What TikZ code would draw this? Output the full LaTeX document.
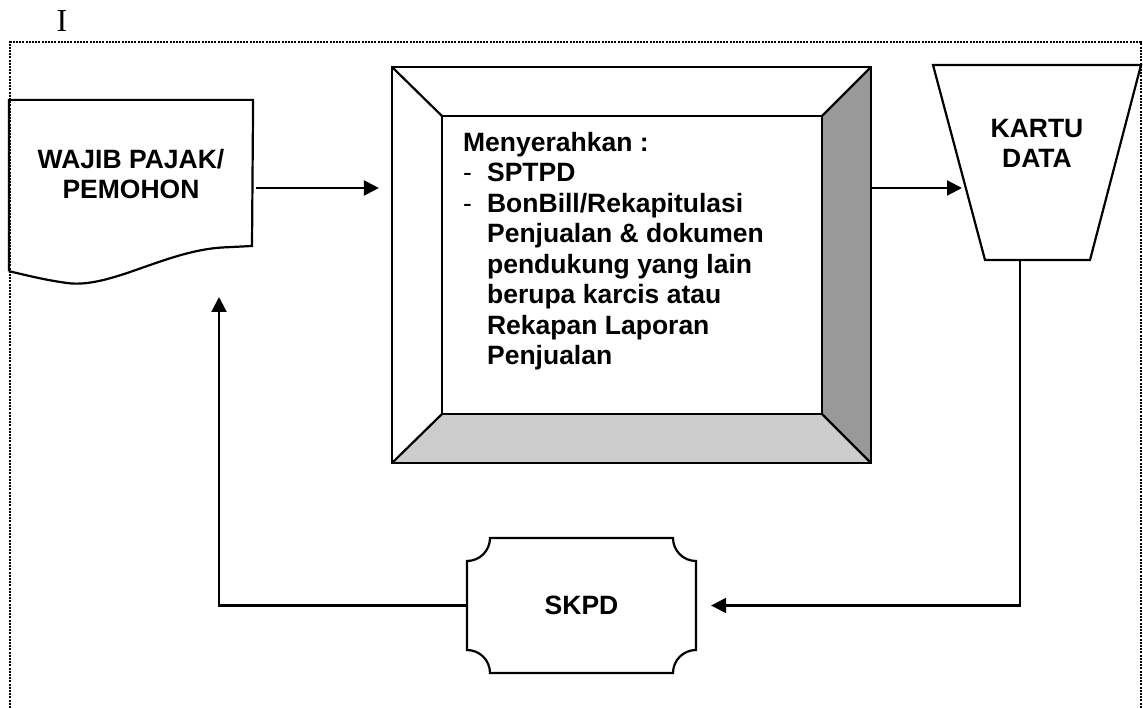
\documentclass[tikz,border=0pt]{standalone}
\usepackage{fontspec}
\setmainfont{Liberation Serif}
\newfontfamily\arial{Liberation Sans}
\usetikzlibrary{arrows.meta}

\begin{document}
\begin{tikzpicture}[x=1pt, y=-1pt, line width=2.2pt,
    main/.style = {draw=none, inner sep=0pt},
    txt/.style = {font=\arial\bfseries\fontsize{26.5}{30}\selectfont, align=center},
    flow/.style = {-{Triangle[length=15pt,width=15pt]}}]
            \useasboundingbox (0,0) rectangle (1143,708);

            \node[font=\fontsize{32}{32}\selectfont] (num) at (62,21) {I};
            \draw[line width=2pt, dash pattern=on 2pt off 1.2pt] (10,708) -- (10,42) -- (1141,42) -- (1141,708);

            % wajib pajak (document)
            \node[main, minimum width=242pt, minimum height=169pt] (wp) at (131,185.5) {};
            \draw (wp.south west) -- (wp.north west) -- (wp.north east) -- (252,246) -- (222,247.5)
                .. controls (165,251) and (110,289) .. (67,283)
                .. controls (45,280) and (25,275) .. (wp.south west);
            \node[txt] (wptxt) at (131,174) {WAJIB PAJAK/\\PEMOHON};

            % menyerahkan (bevel)
            \node[main, minimum width=477pt, minimum height=394pt] (sv) at (631.5,265) {};
            \node[main, minimum width=378pt, minimum height=296pt] (svi) at (632,265) {};
            \fill[black!20] (sv.south west) -- (svi.south west) -- (svi.south east) -- (sv.south east) -- cycle;
            \fill[black!40] (sv.north east) -- (svi.north east) -- (svi.south east) -- (sv.south east) -- cycle;
            \draw (sv.north west) rectangle (sv.south east);
            \draw (svi.north west) rectangle (svi.south east);
            \foreach \c in {north west, north east, south west, south east}
                \draw (sv.\c) -- (svi.\c);
            \node[txt, align=left, anchor=north west, inner sep=0pt, font=\arial\bfseries\fontsize{26.5}{30.5}\selectfont] (svtxt) at (462,131)
                {Menyerahkan :\\
                 \makebox[24pt][l]{\mdseries -}SPTPD\\
                 \makebox[24pt][l]{\mdseries -}BonBill/Rekapitulasi\\
                 \hspace*{24pt}Penjualan \& dokumen\\
                 \hspace*{24pt}pendukung yang lain\\
                 \hspace*{24pt}berupa karcis atau\\
                 \hspace*{24pt}Rekapan Laporan\\
                 \hspace*{24pt}Penjualan};

            % kartu data (trapezium)
            \draw (933,65) -- (1141,65) -- (1090,260) -- (985,260) -- cycle;
            \node[txt] (kd) at (1037,143) {KARTU\\DATA};
            \coordinate (kdin) at (962,188);
            \coordinate (kdout) at (1020,260);

            % skpd
            \node[txt, main, minimum width=229pt, minimum height=135pt] (skpd) at (581.5,605.5) {SKPD};
            \draw (490,538) -- (673,538) arc[start angle=180, end angle=270, radius=23pt]
                -- (696,650) arc[start angle=90, end angle=180, radius=23pt]
                -- (490,673) arc[start angle=0, end angle=90, radius=23pt]
                -- (467,561) arc[start angle=270, end angle=360, radius=23pt] -- cycle;
            \coordinate (wpin) at (219,297);

            \draw[flow] ([xshift=3pt]wp.east |- kdin) -- ([xshift=-13pt]sv.west |- kdin);
            \draw[flow] (sv.east |- kdin) -- (kdin);
            \draw[flow] (kdout) |- ([xshift=14pt]skpd.east);
            \draw[flow] (skpd.west) -| (wpin);

        \end{tikzpicture}
\end{document}
